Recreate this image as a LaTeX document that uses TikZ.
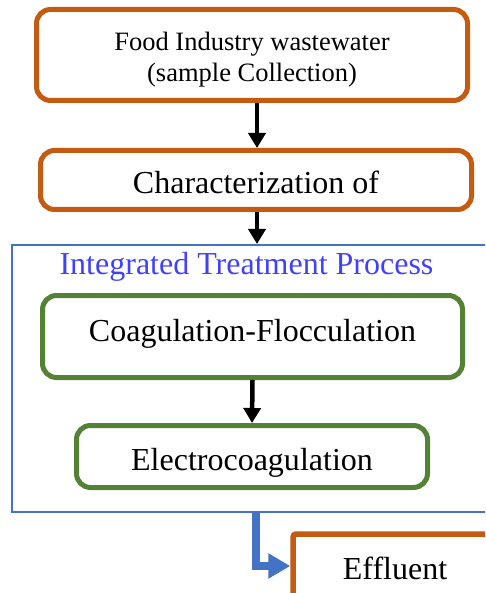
\documentclass[tikz,border=0pt]{standalone}
\usepackage{fontspec}
\setmainfont{Liberation Serif}
\usetikzlibrary{arrows.meta,calc}
\definecolor{orng}{HTML}{C55A11}
\definecolor{grn}{HTML}{548235}
\definecolor{bluebox}{HTML}{4472C4}
\definecolor{titleblue}{HTML}{4040FF}
\newcommand\mydn[2]{\raisebox{-#1}[\height][\depth]{#2}}
\begin{document}
\begin{tikzpicture}[x=1pt,y=-1pt,
  obox/.style={draw=orng,line width=5pt,rounded corners=14pt,fill=white,align=center,inner sep=0pt},
  gbox/.style={draw=grn,line width=5pt,rounded corners=14pt,fill=white,align=center,inner sep=0pt},
  big/.style={font=\fontsize{32}{36}\selectfont},
  blk/.style={line width=4.5pt,-{Triangle[length=15pt,width=17pt]}},
  bluearr/.style={draw=bluebox,line width=8pt,-{Triangle[length=22pt,width=24pt]}}]
\useasboundingbox (0,0) rectangle (485,593);
\clip (0,0) rectangle (485,593);
\coordinate (ax) at (257,0);
\node[obox,minimum width=431pt,minimum height=91pt,font=\fontsize{26.5}{31}\selectfont] (b1) at (252,55) {\mydn{5pt}{\begin{tabular}{@{}c@{}}Food Industry wastewater\\(sample Collection)\end{tabular}}};
\node[obox,big,minimum width=431pt,minimum height=59pt] (b2) at (256,180) {\mydn{2pt}{Characterization of}};
\node[draw=bluebox,line width=2pt,minimum width=508pt,minimum height=267pt,inner sep=0pt] (itp) at (266,378.5) {};
\node[text=titleblue,big,inner sep=0pt] (title) at (246.5,267) {Integrated Treatment Process};
\node[gbox,big,minimum width=420pt,minimum height=82pt] (g1) at (252.5,336.5) {\mydn{-3pt}{Coagulation-Flocculation}};
\node[gbox,big,minimum width=351pt,minimum height=62pt] (g2) at (252,456.5) {\mydn{6pt}{Electrocoagulation}};
\node[draw=orng,line width=5.5pt,rounded corners=3pt,minimum width=204pt,minimum height=64pt,inner sep=0pt,big] (eff) at (395,566) {\mydn{2pt}{Effluent}};
\draw[blk] (b1.south -| ax) -- (b2.north -| ax);
\draw[blk] (b2.south -| ax) -- (itp.north -| ax);
\draw[blk] (g1.south) -- (g2.north);
\draw[bluearr] ([xshift=-1pt]itp.south -| ax) |- (eff.west);
\end{tikzpicture}
\end{document}
